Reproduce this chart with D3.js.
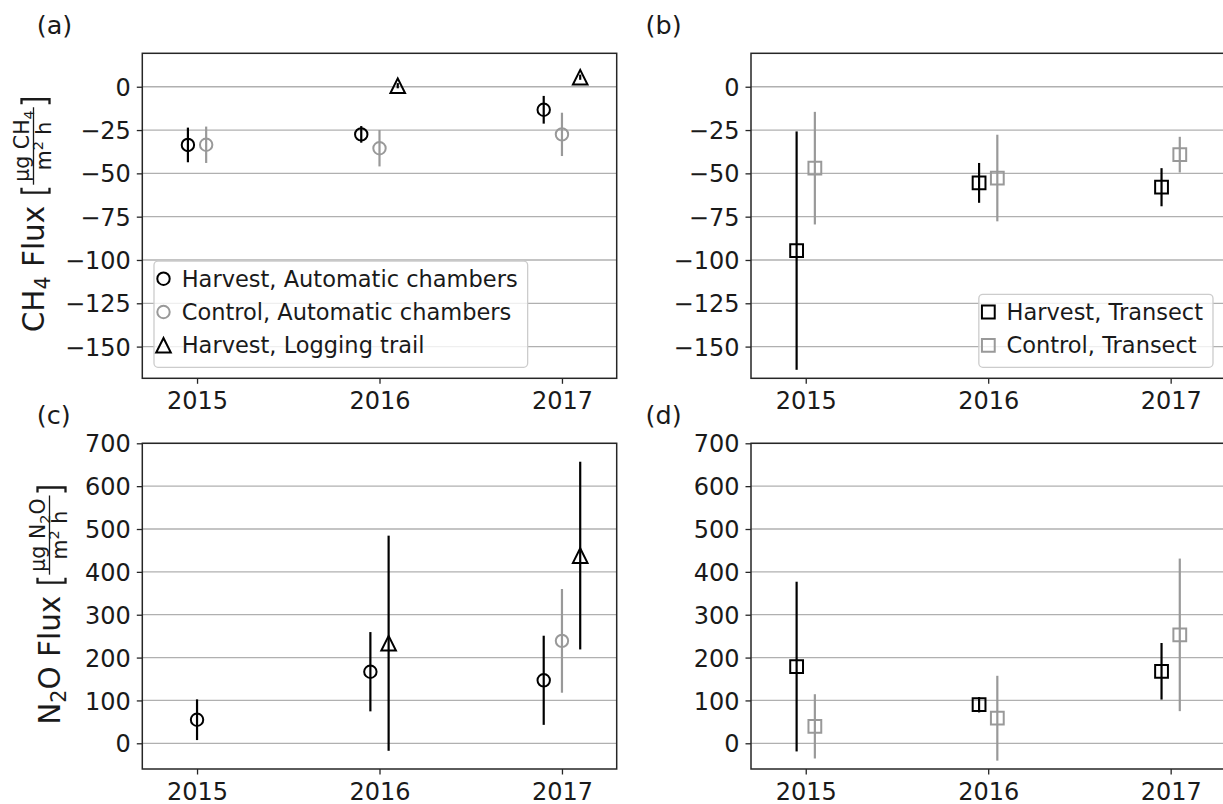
<!DOCTYPE html>
<html><head><meta charset="utf-8">
<script src="https://cdn.jsdelivr.net/npm/d3@7"></script>
<style>
body{margin:0;background:#fff}
svg{display:block;background:#fff}
text{font-family:"DejaVu Sans",sans-serif;fill:#1a1a1a}
</style>
</head><body>
<svg id="chart" width="1223" height="804"></svg>
<script>
// ---------- data ----------
const years = [2015, 2016, 2017];
const ch4Ticks = [0, -25, -50, -75, -100, -125, -150];
const n2oTicks = [0, 100, 200, 300, 400, 500, 600, 700];

// (a) CH4, automatic chambers / logging trail
const harvestAutoCH4    = [-33.6, -27.5, -13.3];
const harvestAutoCH4Err = [10, 4.8, 8];
const controlAutoCH4    = [-33.5, -35.5, -27.5];
const controlAutoCH4Err = [10.5, 10.5, 12.5];
const loggingCH4        = [null, 0.6, 5.5];
const loggingCH4Err     = [null, 1.5, 1.5];

// (b) CH4, transects
const harvestTransCH4    = [-94.6, -55.5, -58];
const harvestTransCH4Err = [68.8, 11.5, 11];
const controlTransCH4    = [-47, -52.7, -39.2];
const controlTransCH4Err = [32.5, 25, 10.3];

// (c) N2O, automatic chambers / logging trail
const harvestAutoN2O    = [55, 167, 147];
const harvestAutoN2OErr = [47.5, 92.5, 104];
const controlAutoN2O    = [null, null, 239];
const controlAutoN2OErr = [null, null, 121];
const loggingN2O        = [null, 233.5, 438];
const loggingN2OErr     = [null, 251, 219];

// (d) N2O, transects
const harvestTransN2O    = [179, 90, 168];
const harvestTransN2OErr = [198, 18, 66];
const controlTransN2O    = [39.5, 58.5, 253];
const controlTransN2OErr = [75, 99, 178];

const labelHarvestAuto = "Harvest, Automatic chambers";
const labelControlAuto = "Control, Automatic chambers";
const labelLogging     = "Harvest, Logging trail";
const labelHarvestTr   = "Harvest, Transect";
const labelControlTr   = "Control, Transect";

// ---------- style ----------
const BLACK = "#000000", GREY = "#999999";
const svg = d3.select("#chart");

const panels = [
  {id:"(a)", left:142.3, top:53.3, w:474.4, h:325, yDomain:[-168.3,19.3], ticks:ch4Ticks,
   series:[
     {label:labelHarvestAuto, v:harvestAutoCH4, e:harvestAutoCH4Err, c:BLACK, s:"circle"},
     {label:labelControlAuto, v:controlAutoCH4, e:controlAutoCH4Err, c:GREY, s:"circle"},
     {label:labelLogging, v:loggingCH4, e:loggingCH4Err, c:BLACK, s:"triangle"}],
   legend:"lowerleft", ylab:"ch4", ylabX:43.5},
  {id:"(b)", left:751, top:53.3, w:474.4, h:325, yDomain:[-168.3,19.3], ticks:ch4Ticks,
   series:[
     {label:labelHarvestTr, v:harvestTransCH4, e:harvestTransCH4Err, c:BLACK, s:"square"},
     {label:labelControlTr, v:controlTransCH4, e:controlTransCH4Err, c:GREY, s:"square"}],
   legend:"lowerright"},
  {id:"(c)", left:142.3, top:443.3, w:474.4, h:325.7, yDomain:[-60,700], ticks:n2oTicks,
   series:[
     {label:labelHarvestAuto, v:harvestAutoN2O, e:harvestAutoN2OErr, c:BLACK, s:"circle"},
     {label:labelControlAuto, v:controlAutoN2O, e:controlAutoN2OErr, c:GREY, s:"circle"},
     {label:labelLogging, v:loggingN2O, e:loggingN2OErr, c:BLACK, s:"triangle"}],
   ylab:"n2o", ylabX:59.5},
  {id:"(d)", left:751, top:443.3, w:474.4, h:325.7, yDomain:[-60,700], ticks:n2oTicks,
   series:[
     {label:labelHarvestTr, v:harvestTransN2O, e:harvestTransN2OErr, c:BLACK, s:"square"},
     {label:labelControlTr, v:controlTransN2O, e:controlTransN2OErr, c:GREY, s:"square"}]}
];

function markerPath(shape){
  if(shape==="circle"){ const r=6.2; return `M${r},0A${r},${r} 0 1,1 ${-r},0A${r},${r} 0 1,1 ${r},0Z`; }
  if(shape==="square"){ const a=6.4; return `M${-a},${-a}H${a}V${a}H${-a}Z`; }
  const t=7.3; return `M0,${-t}L${t},${t}L${-t},${t}Z`;
}

const TICKFS = 24, LEGFS = 22.5;

panels.forEach(p=>{
  const g = svg.append("g");
  const x = d3.scaleLinear().domain([2014.7, 2017.3]).range([p.left, p.left+p.w]);
  const y = d3.scaleLinear().domain(p.yDomain).range([p.top+p.h, p.top]);

  // grid
  g.append("g").selectAll("line").data(p.ticks).join("line")
    .attr("x1", p.left).attr("x2", p.left+p.w)
    .attr("y1", d=>y(d)).attr("y2", d=>y(d))
    .attr("stroke","#b0b0b0").attr("stroke-width",1.3);

  // axes
  const fmt = d3.format("d");
  const ax = g.append("g").attr("transform",`translate(0,${p.top+p.h})`)
    .call(d3.axisBottom(x).tickValues(years).tickFormat(fmt).tickSizeOuter(0).tickSize(5.5).tickPadding(6));
  const ay = g.append("g").attr("transform",`translate(${p.left},0)`)
    .call(d3.axisLeft(y).tickValues(p.ticks).tickFormat(fmt).tickSizeOuter(0).tickSize(5.5).tickPadding(6));
  [ax,ay].forEach(a=>{
    a.select(".domain").remove();
    a.selectAll(".tick line").attr("stroke","#262626").attr("stroke-width",1.3);
    a.selectAll(".tick text").attr("font-size",TICKFS).attr("fill","#1a1a1a")
      .style("font-family",'"DejaVu Sans",sans-serif');
  });
  ax.selectAll(".tick text").attr("dy","0.8em");
  ay.selectAll(".tick text").attr("dy","0.36em");

  // data
  const pts = [];
  years.forEach((yr,i)=>{
    const present = p.series.filter(s=>s.v[i]!=null);
    present.forEach((s,k)=>{
      const off = (k-(present.length-1)/2)*0.1;
      pts.push({x:yr+off, v:s.v[i], e:s.e[i], c:s.c, s:s.s});
    });
  });
  const dg = g.append("g");
  dg.selectAll("line").data(pts).join("line")
    .attr("x1",d=>x(d.x)).attr("x2",d=>x(d.x))
    .attr("y1",d=>y(d.v-d.e)).attr("y2",d=>y(d.v+d.e))
    .attr("stroke",d=>d.c).attr("stroke-width",2.2);
  dg.selectAll("path").data(pts).join("path")
    .attr("d",d=>markerPath(d.s))
    .attr("transform",d=>`translate(${x(d.x)},${y(d.v)})`)
    .attr("fill","none").attr("stroke",d=>d.c).attr("stroke-width",2);

  // frame
  g.append("rect").attr("x",p.left).attr("y",p.top).attr("width",p.w).attr("height",p.h)
    .attr("fill","none").attr("stroke","#262626").attr("stroke-width",1.5);

  // panel label
  svg.append("text").attr("x", p.left-105.5).attr("y", p.top-19.5)
    .attr("font-size",25.5).text(p.id);

  // legend
  if(p.legend){
    const lg = svg.append("g");
    const rect = lg.append("rect");
    const rows = p.series.map((s,i)=>{
      const cy = 17.6 + i*33.3;
      lg.append("path").attr("d",markerPath(s.s)).attr("transform",`translate(9.5,${cy})`)
        .attr("fill","none").attr("stroke",s.c).attr("stroke-width",2);
      const t = lg.append("text").attr("x",27.7).attr("y",cy).attr("dy","0.36em")
        .attr("font-size",LEGFS).text(s.label);
      return t.node().getComputedTextLength();
    });
    const bw = 27.7 + d3.max(rows) + 10;
    const bh = 17.6 + (p.series.length-1)*33.3 + 22;
    rect.attr("width",bw).attr("height",bh).attr("rx",4)
      .attr("fill","#fff").attr("fill-opacity",0.8).attr("stroke","#cccccc").attr("stroke-width",1.3);
    let lx, ly = p.top+p.h-11 - bh;
    if(p.legend==="lowerleft") lx = p.left+11.7; else lx = p.left+p.w-12.4-bw;
    lg.attr("transform",`translate(${lx},${ly})`);
  }

  // y label
  if(p.ylab){
    const main = p.ylab==="ch4" ? [["CH"],["4","sub"],[" Flux"]] : [["N"],["2","sub"],["O Flux"]];
    const num  = p.ylab==="ch4" ? [["µg CH"],["4","sub"]] : [["µg N"],["2","sub"],["O"]];
    const den  = [["m"],["2","sup"],[" h"]];
    yLabel(p.ylabX, p.top+p.h/2, main, num, den);
  }
});

function rich(parent, parts, fs){
  const t = parent.append("text").attr("font-size",fs);
  let shift = 0;
  parts.forEach(([s,kind])=>{
    const ts = t.append("tspan").text(s);
    let target = 0;
    if(kind==="sub"){ ts.attr("font-size",fs*0.7); target = fs*0.22; }
    else if(kind==="sup"){ ts.attr("font-size",fs*0.7); target = -fs*0.38; }
    if(target!==shift){ ts.attr("dy", target-shift); shift = target; }
  });
  return t;
}

function yLabel(bx, cy, main, num, den){
  const outer = svg.append("g").attr("transform",`translate(${bx},${cy}) rotate(-90)`);
  const g = outer.append("g");
  const MFS = 29.5, FFS = 20.5;
  const tm = rich(g, main, MFS);
  const Lm = tm.node().getComputedTextLength();
  const tn = rich(g, num, FFS).attr("text-anchor","middle");
  const td = rich(g, den, FFS).attr("text-anchor","middle");
  const Ln = tn.node().getComputedTextLength(), Ld = td.node().getComputedTextLength();
  const v1 = -22, v2 = 6, bwid = 5;
  const ubL = Lm + 13;
  const uf = ubL + 8;
  const Wf = Math.max(Ln, Ld) + 6;
  const ubR = uf + Wf + 8;
  g.append("path").attr("d",`M${ubL+bwid},${v1}H${ubL}V${v2}H${ubL+bwid}`)
    .attr("fill","none").attr("stroke","#1a1a1a").attr("stroke-width",2.3);
  g.append("path").attr("d",`M${ubR-bwid},${v1}H${ubR}V${v2}H${ubR-bwid}`)
    .attr("fill","none").attr("stroke","#1a1a1a").attr("stroke-width",2.3);
  g.append("line").attr("x1",uf).attr("x2",uf+Wf).attr("y1",-10).attr("y2",-10)
    .attr("stroke","#1a1a1a").attr("stroke-width",1.3);
  tn.attr("x", uf+Wf/2).attr("y", -14.5);
  td.attr("x", uf+Wf/2).attr("y", 7.5);
  const W = ubR;
  g.attr("transform",`translate(${-W/2},0)`);
}
</script>
</body></html>
